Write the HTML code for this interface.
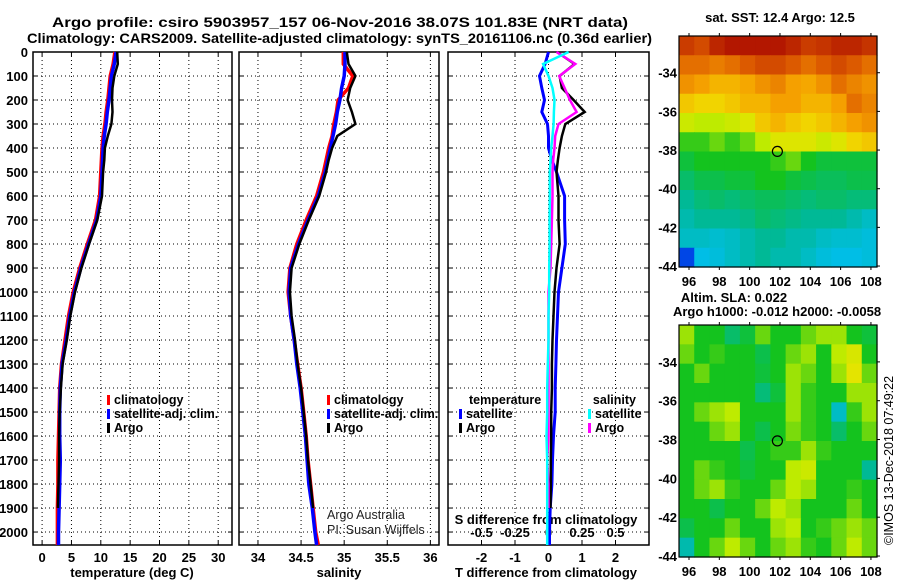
<!DOCTYPE html>
<html><head><meta charset="utf-8"><style>
html,body{margin:0;padding:0;background:#fff;}
svg{display:block;font-family:"Liberation Sans",sans-serif;}
</style></head><body>
<svg id="chart" width="900" height="580" viewBox="0 0 900 580" xmlns="http://www.w3.org/2000/svg">
<text x="52" y="27" font-size="14" font-weight="bold" textLength="576" lengthAdjust="spacingAndGlyphs">Argo profile: csiro 5903957_157 06-Nov-2016 38.07S 101.83E (NRT data)</text>
<text x="27" y="43" font-size="14" font-weight="bold" textLength="625" lengthAdjust="spacingAndGlyphs">Climatology: CARS2009. Satellite-adjusted climatology: synTS_20161106.nc (0.36d earlier)</text>
<g id="g"></g>
</svg>
<script>
// ---------- data ----------
const depthTicks = [0,100,200,300,400,500,600,700,800,900,1000,1100,1200,1300,1400,1500,1600,1700,1800,1900,2000];
const tempTicks = [0,5,10,15,20,25,30];
const salTicks = [34,34.5,35,35.5,36];
const tdiffTicks = [-2,-1,0,1,2];
const sdiffTicks = [-0.5,-0.25,0,0.25,0.5];
const sdiffTickLabels = ["-0.5","-0.25","0","0.25","0.5"];

const profDepth = [0,50,100,150,200,250,300,350,400,450,500,600,700,800,900,1000,1100,1200,1300,1400,1500,1600,1700,1800,1900,2000,2054];
const tempClim = [12.4,12.1,11.6,11.4,11.2,10.9,10.7,10.4,10.2,10.1,10.0,9.8,9.1,7.7,6.4,5.3,4.5,3.9,3.3,3.0,2.9,2.8,2.7,2.7,2.6,2.6,2.6];
const tempSat  = [12.6,12.3,11.8,11.6,11.4,11.1,10.9,10.6,10.4,10.3,10.2,10.0,9.3,7.9,6.6,5.5,4.7,4.1,3.4,3.1,3.0,3.0,3.1,3.0,2.9,2.8,2.8];
const tempArgo = [12.8,12.9,12.3,12.0,11.9,12.0,11.8,11.2,10.7,10.6,10.4,10.2,9.4,8.0,6.7,5.6,4.8,4.2,3.5,3.2,3.0,2.9,2.9,2.8,2.7,null,null];
const salClim = [34.99,34.99,35.10,35.05,34.93,34.91,34.88,34.86,34.82,34.79,34.76,34.68,34.56,34.45,34.37,34.35,34.38,34.42,34.46,34.50,34.53,34.56,34.58,34.61,34.64,34.67,34.70];
const salSat  = [35.01,35.01,35.00,34.97,34.95,34.92,34.90,34.87,34.84,34.81,34.78,34.70,34.58,34.47,34.38,34.36,34.38,34.42,34.45,34.49,34.52,34.55,34.57,34.59,34.63,34.66,34.68];
const salArgo = [35.03,35.05,35.13,35.07,35.04,35.09,35.13,34.92,34.86,34.82,34.79,34.71,34.59,34.48,34.39,34.37,34.39,34.43,34.46,34.50,34.53,34.56,34.58,34.61,34.64,null,null];
const tdiffSat  = [0.0,-0.1,-0.27,-0.2,-0.12,-0.2,-0.03,0.0,0.0,0.1,0.24,0.48,0.48,0.5,0.4,0.3,0.27,0.24,0.22,0.2,0.2,0.15,0.12,0.1,0.05,0.03,0.03];
const tdiffArgo = [0.25,0.78,0.33,0.4,0.75,1.08,0.5,0.4,0.33,0.28,0.24,0.3,0.3,0.33,0.24,0.18,0.15,0.12,0.1,0.1,0.08,0.08,0.07,0.07,0.06,null,null];
const sdiffSat  = [0.15,-0.04,0.0,0.03,0.045,0.04,0.038,0.03,0.02,0.015,0.01,0.01,0.008,0.008,0.005,0.005,0.0,0.0,-0.005,-0.01,-0.01,-0.015,-0.01,-0.01,-0.01,-0.01,-0.01];
const sdiffArgo = [0.06,0.2,0.08,0.12,0.16,0.21,0.075,0.05,0.045,0.035,0.03,0.03,0.025,0.02,0.015,0.0,0.0,0.0,0.0,0.0,0.0,0.0,-0.01,0.0,0.0,null,null];

const lonTicks = [96,98,100,102,104,106,108];
const latTicks = [-34,-36,-38,-40,-42,-44];
const floatLon = 101.83;
const floatLat = -38.07;
const sstGrid = [
[0.92,0.9,0.95,0.97,0.97,0.97,0.97,0.95,0.92,0.93,0.95,0.95,0.93],
[0.85,0.85,0.83,0.85,0.88,0.9,0.9,0.88,0.85,0.88,0.9,0.88,0.85],
[0.8,0.78,0.75,0.75,0.77,0.8,0.82,0.78,0.77,0.8,0.85,0.82,0.8],
[0.72,0.7,0.7,0.72,0.75,0.75,0.78,0.78,0.75,0.75,0.78,0.85,0.82],
[0.62,0.6,0.6,0.62,0.65,0.72,0.75,0.72,0.7,0.72,0.75,0.78,0.8],
[0.52,0.52,0.55,0.52,0.55,0.6,0.65,0.65,0.65,0.62,0.65,0.7,0.72],
[0.48,0.5,0.5,0.5,0.5,0.5,0.52,0.55,0.5,0.48,0.48,0.48,0.48],
[0.45,0.47,0.47,0.48,0.48,0.5,0.5,0.48,0.47,0.46,0.46,0.47,0.47],
[0.42,0.44,0.45,0.44,0.45,0.46,0.46,0.45,0.44,0.45,0.45,0.44,0.44],
[0.4,0.42,0.42,0.42,0.43,0.45,0.44,0.43,0.42,0.42,0.42,0.4,0.38],
[0.38,0.38,0.37,0.38,0.4,0.42,0.42,0.4,0.4,0.38,0.37,0.37,0.36],
[0.2,0.35,0.36,0.38,0.4,0.42,0.4,0.4,0.38,0.36,0.35,0.35,0.36]];
const slaGrid = [
[0.58,0.5,0.5,0.45,0.48,0.55,0.5,0.5,0.55,0.58,0.58,0.5,0.48],
[0.55,0.5,0.52,0.5,0.5,0.47,0.5,0.55,0.58,0.5,0.6,0.64,0.5],
[0.5,0.55,0.5,0.5,0.5,0.48,0.5,0.58,0.55,0.5,0.58,0.66,0.55],
[0.5,0.5,0.5,0.5,0.5,0.44,0.48,0.58,0.52,0.5,0.5,0.58,0.58],
[0.5,0.55,0.58,0.6,0.5,0.5,0.5,0.58,0.52,0.5,0.38,0.52,0.58],
[0.5,0.5,0.55,0.58,0.5,0.47,0.5,0.56,0.52,0.5,0.45,0.5,0.55],
[0.5,0.5,0.5,0.5,0.47,0.5,0.52,0.52,0.58,0.52,0.5,0.5,0.5],
[0.5,0.55,0.52,0.5,0.48,0.5,0.5,0.6,0.62,0.5,0.5,0.5,0.42],
[0.5,0.55,0.58,0.52,0.5,0.5,0.55,0.6,0.58,0.5,0.5,0.52,0.5],
[0.5,0.5,0.47,0.5,0.5,0.55,0.6,0.58,0.5,0.5,0.5,0.55,0.5],
[0.47,0.5,0.5,0.55,0.5,0.5,0.58,0.6,0.5,0.52,0.55,0.58,0.55],
[0.4,0.5,0.55,0.6,0.55,0.5,0.55,0.58,0.52,0.5,0.55,0.6,0.55]];

// ---------- helpers ----------
const NS="http://www.w3.org/2000/svg";
const G=document.getElementById('g');
function el(tag,attrs,parent){const e=document.createElementNS(NS,tag);for(const k in attrs)e.setAttribute(k,attrs[k]);(parent||G).appendChild(e);return e;}
function txt(x,y,s,attrs){const t=el('text',Object.assign({x:x,y:y,'font-size':13,'font-weight':'bold'},attrs||{}));t.textContent=s;return t;}
const yTop=52, yBot=545, dMax=2054;
const yD=d=>yTop+(d/dMax)*(yBot-yTop);
function lin(d0,d1,r0,r1){return v=>r0+(v-d0)/(d1-d0)*(r1-r0);}

const P1={x0:33,x1:232,sx:lin(-1.55,32.35,33,232)};
const P2={x0:239,x1:439,sx:lin(33.78,36.1,239,439)};
const P3={x0:448,x1:649,sx:lin(-3,3,448,649)};
const sdx=lin(-0.75,0.75,448,649);

function panelFrame(P,xt,xfun,name){
  const g=el('g',{});
  
  
  depthTicks.forEach(d=>{const y=yD(d);
    const l=el('line',{x1:P.x0,x2:P.x1,y1:y,y2:y,stroke:'#000','stroke-width':1,'stroke-dasharray':'1,3'},g);
    
    
    el('line',{x1:P.x0,x2:P.x0+4,y1:y,y2:y,stroke:'#000'},g);
    el('line',{x1:P.x1-4,x2:P.x1,y1:y,y2:y,stroke:'#000'},g);
  });
  xt.forEach(v=>{const x=xfun(v);
    const l=el('line',{x1:x,x2:x,y1:yTop,y2:yBot,stroke:'#000','stroke-width':1,'stroke-dasharray':'1,3'},g);
    
    
    el('line',{x1:x,x2:x,y1:yTop,y2:yTop+4,stroke:'#000'},g);
    el('line',{x1:x,x2:x,y1:yBot-4,y2:yBot,stroke:'#000'},g);
  });
  el('rect',{x:P.x0,y:yTop,width:P.x1-P.x0,height:yBot-yTop,fill:'none',stroke:'#000','stroke-width':1.5},g);
  return g;
}
function profile(xs,vals,color,w,name){
  let d='';let started=false;
  for(let i=0;i<profDepth.length;i++){ if(vals[i]===null){continue;}
    const x=xs(vals[i]).toFixed(1), y=yD(profDepth[i]).toFixed(1);
    d+=(started?'L':'M')+x+','+y; started=true;}
  const p=el('path',{d:d,fill:'none',stroke:color,'stroke-width':w,'stroke-linejoin':'miter'});
  
  
}

// Panel 1 temperature
panelFrame(P1,tempTicks,P1.sx,'temperature-panel');
depthTicks.forEach(d=>{const t=txt(28,yD(d)+5,String(d),{'text-anchor':'end'});
  
  });
tempTicks.forEach(v=>{const t=txt(P1.sx(v),562,String(v),{'text-anchor':'middle'});
  
  });
let t1=txt(132,577,'temperature (deg C)',{'text-anchor':'middle'});


profile(P1.sx,tempClim,'#ff0000',3.5,'temperature-climatology-line');
profile(P1.sx,tempSat,'#0000ff',3.5,'temperature-satellite-line');
profile(P1.sx,tempArgo,'#000000',2.5,'temperature-argo-line');

// Panel 2 salinity
panelFrame(P2,salTicks,P2.sx,'salinity-panel');
salTicks.forEach(v=>{const t=txt(P2.sx(v),562,String(v),{'text-anchor':'middle'});
  
  });
let t2=txt(339,577,'salinity',{'text-anchor':'middle'});


profile(P2.sx,salClim,'#ff0000',3.5,'salinity-climatology-line');
profile(P2.sx,salSat,'#0000ff',3.5,'salinity-satellite-line');
profile(P2.sx,salArgo,'#000000',2.5,'salinity-argo-line');

// legends panel 1 & 2
function legend(x0,name){
  const items=[['#ff0000','climatology'],['#0000ff','satellite-adj. clim.'],['#000','Argo']];
  items.forEach((it,i)=>{const y=404+i*14;
    const r=el('rect',{x:x0,y:y-9,width:3,height:10,fill:it[0]});
    
    
    const t=txt(x0+7,y,it[1],{'font-size':12.5});
    
    });
}
legend(107,'temperature-legend');
legend(327,'salinity-legend');
let cr1=txt(327,519,'Argo Australia',{'font-weight':'normal','font-size':12.5,fill:'#222'});


let cr2=txt(327,534,'PI: Susan Wijffels',{'font-weight':'normal','font-size':12.5,fill:'#222'});



// Panel 3 differences
panelFrame(P3,tdiffTicks,P3.sx,'difference-panel');
tdiffTicks.forEach(v=>{const t=txt(P3.sx(v),562,String(v),{'text-anchor':'middle'});
  
  });
sdiffTicks.forEach((v,i)=>{const t=txt(sdx(v),537,sdiffTickLabels[i],{'text-anchor':'middle'});
  
  });
let t3=txt(546,577,'T difference from climatology',{'text-anchor':'middle'});


let t4=txt(546,524,'S difference from climatology',{'text-anchor':'middle'});


profile(P3.sx,tdiffSat,'#0000ff',3,'t-difference-satellite-line');
profile(P3.sx,tdiffArgo,'#000000',2.5,'t-difference-argo-line');
profile(sdx,sdiffArgo,'#ff00ff',2.5,'s-difference-argo-line');
profile(sdx,sdiffSat,'#00ffff',2.5,'s-difference-satellite-line');
[['temperature',469,'start'],['salinity',636,'end']].forEach(h=>{const t=txt(h[1],404,h[0],{'text-anchor':h[2],'font-size':12.5});
  
  });
[[459,418,'#0000ff','satellite'],[459,432,'#000','Argo'],[588,418,'#00ffff','satellite'],[588,432,'#ff00ff','Argo']].forEach(it=>{
  const r=el('rect',{x:it[0],y:it[1]-9,width:3,height:10,fill:it[2]});
  
  
  const t=txt(it[0]+7,it[1],it[3],{'font-size':12.5});
  
  });

// ---------- maps ----------
const stops=[[0,[0,0,150]],[0.2,[0,70,230]],[0.35,[0,190,230]],[0.42,[0,185,150]],[0.5,[20,195,30]],[0.6,[190,235,0]],[0.68,[240,225,0]],[0.78,[245,160,0]],[0.88,[220,90,0]],[1,[165,0,0]]];
function cmap(v){for(let i=1;i<stops.length;i++){if(v<=stops[i][0]){const a=stops[i-1],b=stops[i],f=(v-a[0])/(b[0]-a[0]);
  return 'rgb('+a[1].map((c,k)=>Math.round(c+(b[1][k]-c)*f)).join(',')+')';}}return 'rgb(165,0,0)';}
const lonMin=95.34, lonMax=108.4, latMax=-32.1, latMin=-44.05;
function drawMap(y0,y1,grid,name){
  const x0=679,x1=877;
  const mx=lin(lonMin,lonMax,x0,x1), my=lin(latMax,latMin,y0,y1);
  const g=el('g',{});
  
  
  const rows=grid.length, cols=grid[0].length;
  const cw=(x1-x0)/cols, ch=(y1-y0)/rows;
  for(let r=0;r<rows;r++)for(let c=0;c<cols;c++){
    const cell=el('rect',{x:(x0+c*cw).toFixed(2),y:(y0+r*ch).toFixed(2),width:(cw+0.6).toFixed(2),height:(ch+0.6).toFixed(2),fill:cmap(grid[r][c])},g);
    
    
  }
  el('rect',{x:x0,y:y0,width:x1-x0,height:y1-y0,fill:'none',stroke:'#000','stroke-width':1.2},g);
  lonTicks.forEach(v=>{const x=mx(v);
    el('line',{x1:x,x2:x,y1:y0-3,y2:y0,stroke:'#000'},g);
    el('line',{x1:x,x2:x,y1:y1,y2:y1+3,stroke:'#000'},g);
    const t=txt(x,y1+19,String(v),{'text-anchor':'middle'});
    
    });
  latTicks.forEach(v=>{const y=my(v);
    el('line',{x1:x1,x2:x1+3,y1:y,y2:y,stroke:'#000'},g);
    const t=txt(677,y+5,String(v),{'text-anchor':'end'});
    
    });
  const c=el('circle',{cx:mx(floatLon),cy:my(floatLat),r:5,fill:'none',stroke:'#000','stroke-width':1.2},g);
  
  
}
drawMap(36,267,sstGrid,'sst-map');
drawMap(325,557,slaGrid,'sla-map');
let m1=txt(780,22,'sat. SST: 12.4 Argo: 12.5',{'text-anchor':'middle'});


let m2=txt(734,302,'Altim. SLA: 0.022',{'text-anchor':'middle'});


let m3=txt(777,316,'Argo h1000: -0.012 h2000: -0.0058',{'text-anchor':'middle'});


let cp=txt(0,0,'\u00a9IMOS 13-Dec-2018 07:49:22',{'font-weight':'normal','font-size':12.5,transform:'translate(893,545) rotate(-90)'});


</script>
</body></html>
